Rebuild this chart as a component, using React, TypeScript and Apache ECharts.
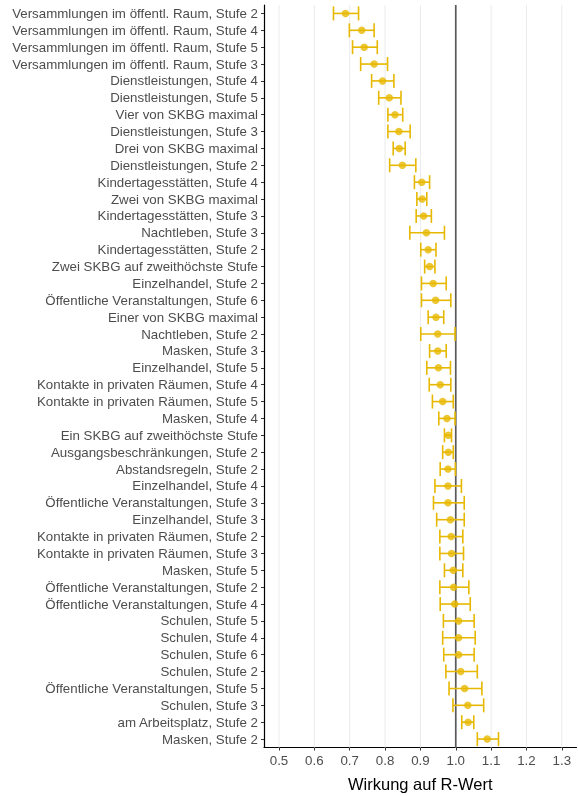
import React, { useEffect, useRef } from "react";
import * as echarts from "echarts";

const categories: string[] = [
  "Versammlungen im öffentl. Raum, Stufe 2",
  "Versammlungen im öffentl. Raum, Stufe 4",
  "Versammlungen im öffentl. Raum, Stufe 5",
  "Versammlungen im öffentl. Raum, Stufe 3",
  "Dienstleistungen, Stufe 4",
  "Dienstleistungen, Stufe 5",
  "Vier von SKBG maximal",
  "Dienstleistungen, Stufe 3",
  "Drei von SKBG maximal",
  "Dienstleistungen, Stufe 2",
  "Kindertagesstätten, Stufe 4",
  "Zwei von SKBG maximal",
  "Kindertagesstätten, Stufe 3",
  "Nachtleben, Stufe 3",
  "Kindertagesstätten, Stufe 2",
  "Zwei SKBG auf zweithöchste Stufe",
  "Einzelhandel, Stufe 2",
  "Öffentliche Veranstaltungen, Stufe 6",
  "Einer von SKBG maximal",
  "Nachtleben, Stufe 2",
  "Masken, Stufe 3",
  "Einzelhandel, Stufe 5",
  "Kontakte in privaten Räumen, Stufe 4",
  "Kontakte in privaten Räumen, Stufe 5",
  "Masken, Stufe 4",
  "Ein SKBG auf zweithöchste Stufe",
  "Ausgangsbeschränkungen, Stufe 2",
  "Abstandsregeln, Stufe 2",
  "Einzelhandel, Stufe 4",
  "Öffentliche Veranstaltungen, Stufe 3",
  "Einzelhandel, Stufe 3",
  "Kontakte in privaten Räumen, Stufe 2",
  "Kontakte in privaten Räumen, Stufe 3",
  "Masken, Stufe 5",
  "Öffentliche Veranstaltungen, Stufe 2",
  "Öffentliche Veranstaltungen, Stufe 4",
  "Schulen, Stufe 5",
  "Schulen, Stufe 4",
  "Schulen, Stufe 6",
  "Schulen, Stufe 2",
  "Öffentliche Veranstaltungen, Stufe 5",
  "Schulen, Stufe 3",
  "am Arbeitsplatz, Stufe 2",
  "Masken, Stufe 2",
];

const estimates: number[] = [
  0.688, 0.734, 0.741, 0.769, 0.793, 0.812, 0.828, 0.839, 0.840, 0.849,
  0.904, 0.905, 0.909, 0.917, 0.922, 0.926, 0.936, 0.943, 0.944, 0.949,
  0.949, 0.951, 0.956, 0.963, 0.975, 0.979, 0.979, 0.978, 0.978, 0.978,
  0.985, 0.987, 0.988, 0.993, 0.994, 0.997, 1.008, 1.008, 1.008, 1.014,
  1.025, 1.034, 1.035, 1.089,
];

const lower: number[] = [
  0.654, 0.699, 0.708, 0.731, 0.762, 0.782, 0.808, 0.808, 0.823, 0.813,
  0.883, 0.890, 0.888, 0.870, 0.901, 0.912, 0.903, 0.903, 0.922, 0.901,
  0.926, 0.918, 0.925, 0.934, 0.952, 0.968, 0.963, 0.956, 0.941, 0.937,
  0.946, 0.955, 0.955, 0.968, 0.955, 0.956, 0.965, 0.963, 0.966, 0.972,
  0.981, 0.992, 1.017, 1.061,
];

const upper: number[] = [
  0.725, 0.769, 0.778, 0.807, 0.825, 0.845, 0.850, 0.871, 0.857, 0.887,
  0.926, 0.918, 0.931, 0.968, 0.944, 0.941, 0.973, 0.986, 0.966, 0.998,
  0.973, 0.985, 0.986, 0.993, 0.998, 0.988, 0.993, 0.999, 1.016, 1.024,
  1.024, 1.020, 1.022, 1.020, 1.037, 1.041, 1.052, 1.055, 1.052, 1.061,
  1.074, 1.079, 1.051, 1.121,
];

const xTicks: number[] = [0.5, 0.6, 0.7, 0.8, 0.9, 1.0, 1.1, 1.2, 1.3];
const referenceValue = 1.0;
const axisTitle = "Wirkung auf R-Wert";

const POINT_COLOR = "#E7B800";

export default function App() {
  const ref = useRef<HTMLDivElement>(null);

  useEffect(() => {
    if (!ref.current) return;
    const chart = echarts.init(ref.current, null, { renderer: "svg" });

    const vLine = (stroke: string, lineWidth: number) => (params: any, api: any) => {
      const x = api.coord([api.value(0), 0])[0];
      const cs = params.coordSys;
      return {
        type: "line",
        shape: { x1: x, y1: cs.y, x2: x, y2: cs.y + cs.height },
        style: { stroke, lineWidth },
        silent: true,
      };
    };

    chart.setOption({
      animation: false,
      textStyle: { fontFamily: "'Liberation Sans', Arial, sans-serif" },
      grid: {
        left: 264,
        right: 1.5,
        top: 5,
        bottom: 48.5,
        containLabel: false,
        outerBoundsMode: "none",
      },
      xAxis: {
        type: "value",
        min: 0.4575,
        max: 1.3416,
        name: axisTitle,
        nameLocation: "middle",
        nameGap: 28,
        nameTextStyle: { color: "#000000", fontSize: 16.5 },
        axisLine: { show: true, lineStyle: { color: "#000000", width: 1.2 } },
        axisTick: {
          show: true,
          length: 3,
          customValues: xTicks,
          lineStyle: { color: "#333333", width: 1 },
        },
        axisLabel: {
          customValues: xTicks,
          color: "#4D4D4D",
          fontSize: 13.3,
          margin: 6,
          hideOverlap: false,
          formatter: (v: number) => v.toFixed(1),
        },
        splitLine: { show: false },
      },
      yAxis: {
        type: "category",
        data: categories,
        inverse: true,
        axisLine: { show: true, lineStyle: { color: "#000000", width: 1.2 } },
        axisTick: {
          show: true,
          length: 3,
          interval: 0,
          alignWithLabel: true,
          lineStyle: { color: "#333333", width: 1 },
        },
        axisLabel: {
          color: "#4D4D4D",
          fontSize: 13.3,
          margin: 6,
          interval: 0,
          hideOverlap: false,
        },
        splitLine: { show: false },
      },
      series: [
        {
          type: "custom",
          silent: true,
          z: 1,
          encode: { x: 0, y: 1 },
          data: xTicks.map((v) => [v, 0]),
          renderItem: vLine("#EBEBEB", 1),
        },
        {
          type: "custom",
          silent: true,
          z: 2,
          encode: { x: 0, y: 1 },
          data: [[referenceValue, 0]],
          renderItem: vLine("#5A5A5A", 1.7),
        },
        {
          type: "custom",
          z: 3,
          encode: { x: [0, 1], y: 2 },
          data: categories.map((_, i) => [lower[i], upper[i], i]),
          renderItem: (params: any, api: any) => {
            const a = api.coord([api.value(0), api.value(2)]);
            const b = api.coord([api.value(1), api.value(2)]);
            const h = 7;
            const style = { stroke: POINT_COLOR, lineWidth: 1.6 };
            return {
              type: "group",
              children: [
                { type: "line", shape: { x1: a[0], y1: a[1], x2: b[0], y2: b[1] }, style },
                { type: "line", shape: { x1: a[0], y1: a[1] - h, x2: a[0], y2: a[1] + h }, style },
                { type: "line", shape: { x1: b[0], y1: b[1] - h, x2: b[0], y2: b[1] + h }, style },
              ],
            };
          },
        },
        {
          type: "scatter",
          z: 4,
          symbol: "circle",
          symbolSize: 7.5,
          itemStyle: { color: POINT_COLOR },
          data: estimates.map((v, i) => [v, i]),
        },
      ],
    });

    return () => chart.dispose();
  }, []);

  return (
    <div
      ref={ref}
      style={{ position: "fixed", left: 0, top: 0, width: 578, height: 796 }}
    />
  );
}
